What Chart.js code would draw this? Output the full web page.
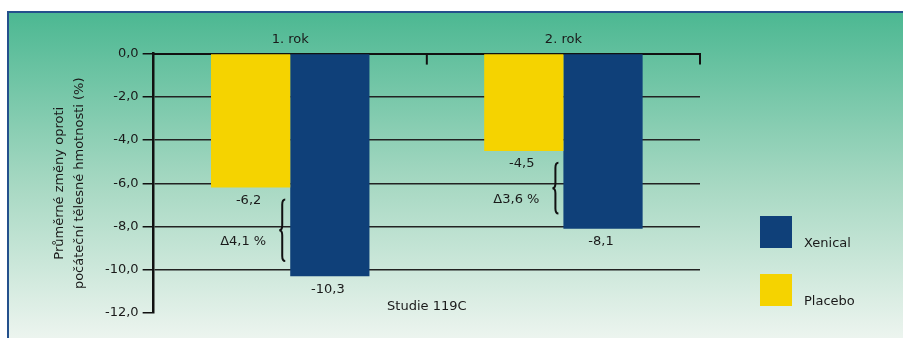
<!DOCTYPE html>
<html>
<head>
<meta charset="utf-8">
<script src="https://cdn.jsdelivr.net/npm/chart.js@4"></script>
<style>
  html, body { margin: 0; padding: 0; background: #fff; }
  #wrap { position: relative; width: 903px; height: 338px; overflow: hidden; }
  #frame {
    position: absolute; left: 7px; top: 11px; width: 920px; height: 340px;
    border-top: 2px solid #24508c; border-left: 2px solid #24508c;
    background: linear-gradient(to bottom, #4cb892 0%, #a6d8c2 50%, #f3f7f3 100%);
  }
  canvas { position: absolute; left: 0; top: 0; }
</style>
</head>
<body>
<div id="wrap">
  <div id="frame"></div>
  <canvas id="chart" width="903" height="338"></canvas>
</div>
<script>
// data
const categories = ["1. rok", "2. rok"];
const placebo = [-6.2, -4.5];
const xenical = [-10.3, -8.1];
const yTicks = [0, -2, -4, -6, -8, -10, -12];
const yTitle = ["Průměrné změny oproti", "počáteční tělesné hmotnosti (%)"];
const studyLabel = "Studie 119C";

const FONT = "'DejaVu Sans', sans-serif";
const INK = "#1a1a1a";
const fmt = v => v.toFixed(1).replace(".", ",");

// extra drawing: top axis ticks, value labels, delta braces, legend
const annotations = {
  id: "annotations",
  afterDatasetsDraw(chart) {
    const { ctx, chartArea, scales: { x, y } } = chart;
    ctx.save();
    ctx.strokeStyle = "#111";
    ctx.lineWidth = 2;
    [0.5, 1.5].forEach(v => {
      const px = x.getPixelForValue(v);
      ctx.beginPath();
      ctx.moveTo(px, chartArea.top);
      ctx.lineTo(px, chartArea.top + 11);
      ctx.stroke();
    });

    ctx.font = "13px " + FONT;
    ctx.fillStyle = INK;
    ctx.textAlign = "center";
    ctx.textBaseline = "middle";
    chart.data.datasets.forEach((ds, i) => {
      chart.getDatasetMeta(i).data.forEach((bar, j) => {
        ctx.fillText(fmt(ds.data[j]), bar.x - 2, bar.y + 13);
      });
    });

    // braces with the difference between the two bars
    const xenMeta = chart.getDatasetMeta(1);
    categories.forEach((c, j) => {
      const bar = xenMeta.data[j];
      const left = bar.x - bar.width / 2;
      const bx = left - 8;
      const top = y.getPixelForValue(placebo[j] - 0.55);
      const bot = y.getPixelForValue(xenical[j] + 0.7);
      const mid = (top + bot) / 2;
      ctx.strokeStyle = "#111";
      ctx.lineWidth = 2;
      ctx.beginPath();
      ctx.moveTo(bx + 3, top);
      ctx.quadraticCurveTo(bx, top, bx, top + 5);
      ctx.lineTo(bx, mid - 5);
      ctx.quadraticCurveTo(bx, mid, bx - 3, mid);
      ctx.quadraticCurveTo(bx, mid, bx, mid + 5);
      ctx.lineTo(bx, bot - 5);
      ctx.quadraticCurveTo(bx, bot, bx + 3, bot);
      ctx.stroke();

      const d = Math.abs(xenical[j] - placebo[j]);
      ctx.textAlign = "right";
      ctx.fillText("Δ" + fmt(d) + " %", left - 24, mid + 11);
    });

    ctx.textAlign = "center";
    ctx.fillText(studyLabel, (chartArea.left + chartArea.right) / 2, chartArea.bottom - 6);

    // legend, Xenical first
    const order = [1, 0];
    order.forEach((i, k) => {
      const ds = chart.data.datasets[i];
      const lx = chartArea.right + 60;
      const ly = chartArea.bottom - 97 + k * 58;
      ctx.fillStyle = ds.backgroundColor;
      ctx.fillRect(lx, ly, 32, 32);
      ctx.fillStyle = INK;
      ctx.textAlign = "left";
      ctx.fillText(ds.label, lx + 44, ly + 28);
    });
    ctx.restore();
  }
};

new Chart(document.getElementById("chart"), {
  type: "bar",
  data: {
    labels: categories,
    datasets: [
      { label: "Placebo", data: placebo, backgroundColor: "#f5d300",
        categoryPercentage: 0.58, barPercentage: 1 },
      { label: "Xenical", data: xenical, backgroundColor: "#0f4079",
        categoryPercentage: 0.58, barPercentage: 1 }
    ]
  },
  options: {
    responsive: false,
    animation: false,
    layout: { padding: { left: 46, top: 26, right: 203, bottom: 25 } },
    plugins: { legend: { display: false }, tooltip: { enabled: false } },
    scales: {
      x: {
        position: "top",
        grid: { display: false, drawTicks: false },
        border: { display: true, color: "#111", width: 2 },
        ticks: { color: INK, font: { family: FONT, size: 13 }, padding: 6 }
      },
      y: {
        min: -12,
        max: 0,
        afterBuildTicks: scale => { scale.ticks = yTicks.map(v => ({ value: v })); },
        border: { display: true, color: "#111", width: 2.5 },
        grid: {
          color: c => (c.tick && c.tick.value === -12 ? "rgba(0,0,0,0)" : "#222"),
          tickColor: "#111",
          lineWidth: 1.5,
          tickLength: 11
        },
        ticks: { color: INK, font: { family: FONT, size: 13 }, padding: 4, callback: v => fmt(v) },
        title: {
          display: true,
          text: yTitle,
          color: INK,
          font: { family: FONT, size: 13, lineHeight: 1.5 },
          padding: { top: 4, bottom: 12 }
        }
      }
    }
  },
  plugins: [annotations]
});
</script>
</body>
</html>
